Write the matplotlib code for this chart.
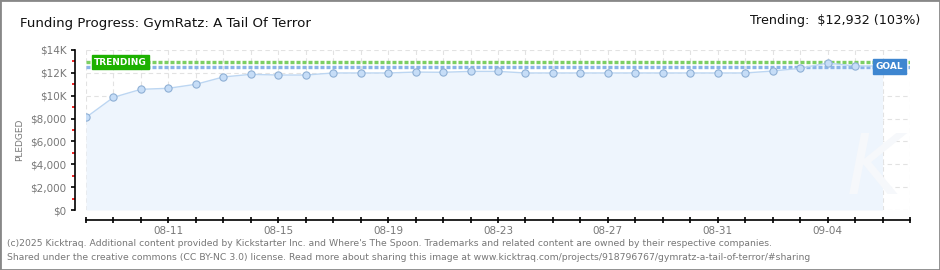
import numpy as np
import pandas as pd
import matplotlib
matplotlib.use('Agg')
import matplotlib.pyplot as plt
import matplotlib.dates as mdates
from matplotlib.patches import Rectangle

# daily pledged totals, 08-08 .. 09-06
dates = pd.date_range('2025-08-08', periods=30, freq='D')
pledged = [8100, 9860, 10560, 10650, 11000, 11640, 11870, 11810, 11810, 11990,
           11990, 11990, 12070, 12050, 12130, 12130, 11990, 11990, 11990, 11990,
           11990, 11990, 11990, 11990, 11990, 12160, 12400, 12860, 12600, 12600]
goal = 12550
trending = 12932
trend_pct = 103
yticks = [0, 2000, 4000, 6000, 8000, 10000, 12000, 14000]
ylabels = ['$0', '$2,000', '$4,000', '$6,000', '$8,000', '$10K', '$12K', '$14K']
label_days = ['08-11', '08-15', '08-19', '08-23', '08-27', '08-31', '09-04']

gray = '#777777'
fig = plt.figure(figsize=(9.4, 2.7), dpi=100)
ax = fig.add_axes([86/940, 60/270, 824/940, 160/270])

x = mdates.date2num(dates)
xmin, xmax = x[0], x[0] + 30

ax.fill_between(x, pledged, 0, color='#eef5fd', zorder=1, lw=0)
ax.plot(x, pledged, color='#bcd6f2', lw=1, zorder=3)
ax.plot(x, pledged, 'o', ms=5.2, mfc='#c6ddf7', mec='#8fb0d5', mew=0.8, zorder=4)

# trending / goal lines
ax.axhline(trending, color='#7ccf63', lw=2.4, ls=(0, (1.2, 0.6)), zorder=2)
ax.axhline(goal, color='#8ab4e8', lw=2.4, ls=(0, (1.2, 0.6)), zorder=2)

ax.text(x[0] + 0.3, trending, 'TRENDING', color='white', fontsize=6.5, fontweight='bold',
        ha='left', va='center', zorder=5,
        bbox=dict(boxstyle='square,pad=0.25', fc='#1db100', ec='#1db100'))
ax.text(x[0] + 29.75, goal, 'GOAL', color='white', fontsize=6.5, fontweight='bold',
        ha='right', va='center', zorder=5,
        bbox=dict(boxstyle='square,pad=0.3', fc='#3e86d0', ec='#3e86d0'))

# watermark
ax.text(x[0] + 28.7, 3500, 'K', fontsize=60, style='italic', color='#f6f8fb',
        ha='center', va='center', zorder=1.5)

# grid
day_ticks = np.arange(xmin, xmax + 1)
for d in day_ticks:
    ax.plot([d, d], [0, 14000], color='#e2e2e2', lw=0.8, ls=(0, (4, 3)), zorder=0)
for yv in yticks:
    ax.axhline(yv, color='#e2e2e2', lw=0.8, ls=(0, (4, 3)), zorder=0)

ax.set_xlim(xmin, xmax)
ax.set_ylim(0, 14000)

ax.set_xticks(day_ticks)
ax.set_xticklabels([mdates.num2date(d).strftime('%m-%d') if mdates.num2date(d).strftime('%m-%d') in label_days else ''
                    for d in day_ticks])
ax.set_yticks(yticks)
ax.set_yticklabels(ylabels)
ax.set_yticks(np.arange(1000, 14000, 2000), minor=True)

ax.tick_params(axis='x', direction='inout', length=5, width=1.2, color='black',
               labelsize=7.5, labelcolor=gray, pad=2)
ax.tick_params(axis='y', which='major', direction='out', length=3, width=1.2,
               color='black', labelsize=7.5, labelcolor=gray, pad=3)
ax.tick_params(axis='y', which='minor', direction='out', length=2.5, width=1.2,
               color='#ee0000')

for s in ['top', 'right']:
    ax.spines[s].set_visible(False)
ax.spines['bottom'].set_position(('outward', 7.2))
ax.spines['left'].set_position(('outward', 7.9))
ax.spines['bottom'].set_linewidth(1.2)
ax.spines['left'].set_linewidth(1.2)
ax.set_facecolor('none')

fig.text(20/940, 130/270, 'PLEDGED', rotation=90, ha='center', va='center',
         fontsize=6.5, color=gray)

fig.text(20/940, 1 - 24/270, 'Funding Progress: GymRatz: A Tail Of Terror',
         fontsize=9.6, ha='left', va='center', color='#111111')
fig.text(920/940, 1 - 21/270, f'Trending:  ${trending:,} ({trend_pct}%)',
         fontsize=9.2, ha='right', va='center', color='#111111')

fig.text(7/940, 1 - 243/270,
         "(c)2025 Kicktraq. Additional content provided by Kickstarter Inc. and Where's The Spoon. "
         "Trademarks and related content are owned by their respective companies.",
         fontsize=6.7, color=gray, ha='left', va='center')
fig.text(7/940, 1 - 257/270,
         "Shared under the creative commons (CC BY-NC 3.0) license. Read more about sharing this image at "
         "www.kicktraq.com/projects/918796767/gymratz-a-tail-of-terror/#sharing",
         fontsize=6.7, color=gray, ha='left', va='center')

fig.add_artist(Rectangle((0, 0), 1, 1, transform=fig.transFigure, fill=False,
                         edgecolor='#888888', lw=2))

fig.savefig('out.png', dpi=100)
